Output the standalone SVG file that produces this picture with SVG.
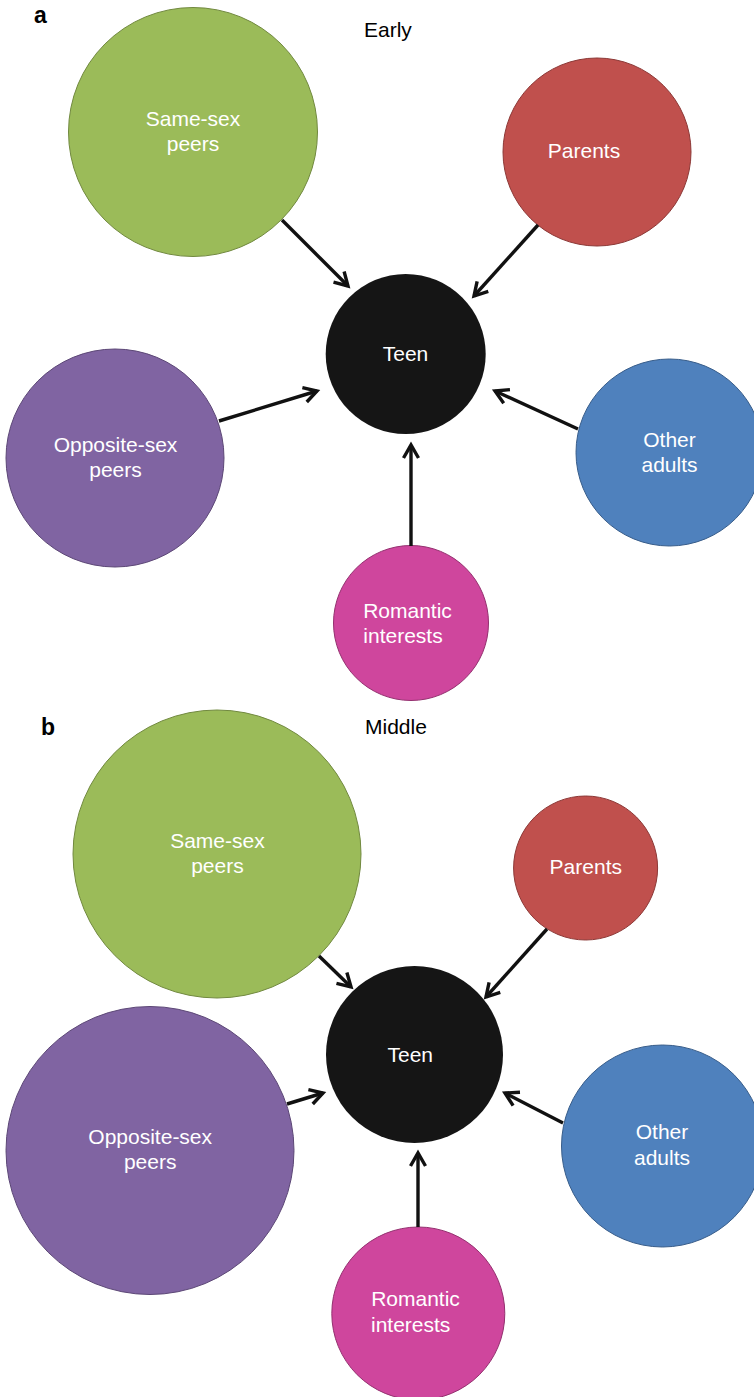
<svg xmlns="http://www.w3.org/2000/svg" width="754" height="1397" viewBox="0 0 754 1397">
<style>
text{font-family:"Liberation Sans",Arial,sans-serif;font-size:21px}
.w{fill:#ffffff;text-anchor:middle}
.t{fill:#000000}
.p{font-weight:bold;font-size:23px}
.green{fill:#9BBB59;stroke:#71893F;stroke-width:1}
.red{fill:#C0504D;stroke:#8C3836;stroke-width:1}
.purple{fill:#8064A2;stroke:#5C4776;stroke-width:1}
.blue{fill:#4F81BD;stroke:#385D8A;stroke-width:1}
.pink{fill:#CF469D;stroke:#94306F;stroke-width:1}
.teen{fill:#151515}
.c line{stroke:#111111;stroke-width:3.4;marker-end:url(#ah)}
</style>
<defs>
<marker id="ah" markerUnits="userSpaceOnUse" markerWidth="22" markerHeight="22" viewBox="0 0 22 22" refX="17" refY="11" orient="auto">
<path d="M4,3.5 L17,11 L4,18.5" fill="none" stroke="#111111" stroke-width="3.4"/>
</marker>
</defs>
<rect width="754" height="1397" fill="#ffffff"/>
<text class="t p" x="34" y="23">a</text>
<text class="t" x="364" y="37">Early</text>
<text class="t p" x="41" y="735">b</text>
<text class="t" x="365" y="734">Middle</text>

<g id="a-same"><circle class="green" cx="193" cy="132" r="124.5"/><text class="w" x="193" y="126">Same-sex</text><text class="w" x="193" y="151">peers</text></g>
<g id="a-parents"><circle class="red" cx="597" cy="152" r="94"/><text class="w" x="584" y="158">Parents</text></g>
<g id="a-teen"><circle class="teen" cx="405.7" cy="354" r="80"/><text class="w" x="405.5" y="361">Teen</text></g>
<g id="a-opposite"><circle class="purple" cx="115" cy="458" r="109"/><text class="w" x="115.5" y="452">Opposite-sex</text><text class="w" x="115.5" y="477">peers</text></g>
<g id="a-other"><circle class="blue" cx="669.5" cy="452.5" r="93.5"/><text class="w" x="669.5" y="447">Other</text><text class="w" x="669.5" y="472">adults</text></g>
<g id="a-romantic"><circle class="pink" cx="411" cy="623" r="77.5"/><text class="w" x="407.5" y="618">Romantic</text><text class="w" x="403" y="643">interests</text></g>

<g id="b-same"><circle class="green" cx="217" cy="854" r="144"/><text class="w" x="217.4" y="848">Same-sex</text><text class="w" x="217.4" y="873">peers</text></g>
<g id="b-parents"><circle class="red" cx="585.6" cy="868" r="72"/><text class="w" x="585.8" y="874">Parents</text></g>
<g id="b-teen"><circle class="teen" cx="414.5" cy="1054.5" r="88.5"/><text class="w" x="410.3" y="1062">Teen</text></g>
<g id="b-opposite"><circle class="purple" cx="150" cy="1150.5" r="144"/><text class="w" x="150.2" y="1144">Opposite-sex</text><text class="w" x="150.2" y="1169">peers</text></g>
<g id="b-other"><circle class="blue" cx="662.5" cy="1146" r="101"/><text class="w" x="662" y="1139">Other</text><text class="w" x="662" y="1165">adults</text></g>
<g id="b-romantic"><circle class="pink" cx="418.3" cy="1313.5" r="86.5"/><text class="w" x="415.5" y="1306">Romantic</text><text class="w" x="410.7" y="1332">interests</text></g>

<g id="connectors" class="c">
<line x1="282" y1="220" x2="348" y2="286"/>
<line x1="538" y1="225" x2="474" y2="296"/>
<line x1="219" y1="421" x2="317" y2="391"/>
<line x1="578" y1="429" x2="495" y2="391"/>
<line x1="411" y1="546" x2="411" y2="445"/>
<line x1="319" y1="956" x2="351" y2="987"/>
<line x1="547" y1="929" x2="486" y2="997"/>
<line x1="287" y1="1104" x2="323" y2="1093"/>
<line x1="563" y1="1123" x2="505" y2="1093"/>
<line x1="418" y1="1227" x2="418" y2="1153"/>
</g>
</svg>
